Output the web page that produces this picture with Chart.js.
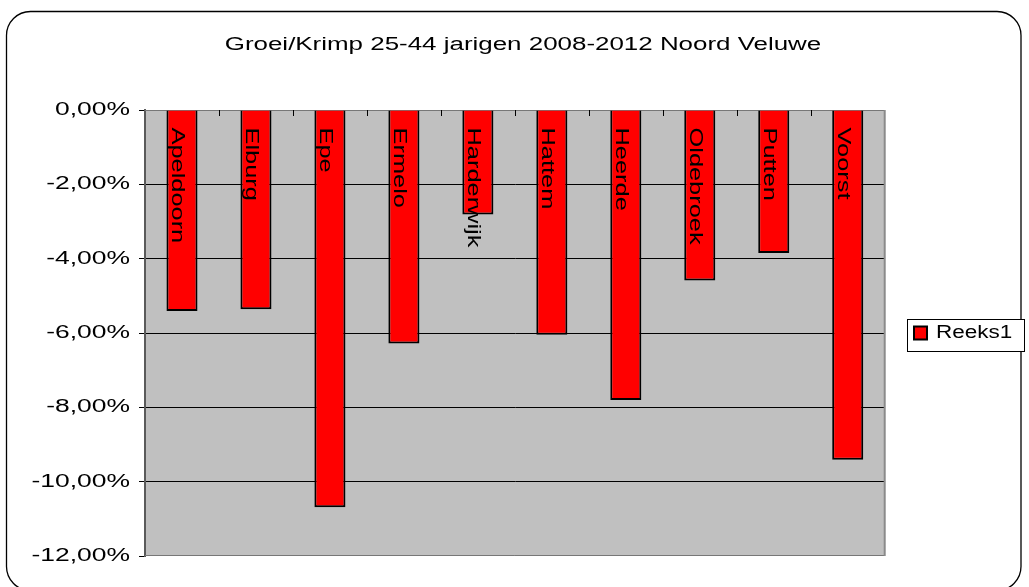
<!DOCTYPE html>
<html>
<head>
<meta charset="utf-8">
<script src="https://cdn.jsdelivr.net/npm/chart.js@4"></script>
<style>
  html, body { margin: 0; padding: 0; background: #ffffff; }
  canvas { display: block; }
</style>
</head>
<body>
<canvas id="c" width="1029" height="587"></canvas>
<script>
// ---- data ----
const chartTitle = 'Groei/Krimp 25-44 jarigen 2008-2012 Noord Veluwe';
const seriesName = 'Reeks1';
const categories = ['Apeldoorn', 'Elburg', 'Epe', 'Ermelo', 'Harderwijk', 'Hattem', 'Heerde', 'Oldebroek', 'Putten', 'Voorst'];
const values = [-5.41, -5.36, -10.69, -6.28, -2.81, -6.05, -7.80, -4.59, -3.85, -9.41];
const yMin = -12;
const yMax = 0;
const yStep = 2;

const FONT = '"Liberation Sans", Arial, sans-serif';

const canvas = document.getElementById('c');
const ctx = canvas.getContext('2d');

// the reference text is drawn with a horizontally widened face
function widen(t) {
  t = String(t);
  if (t === seriesName) return 1.25;
  if (/%$/.test(t)) return 1.47;
  if (t === chartTitle) return 1.44;
  return 1.41;
}
const origFill = ctx.fillText;
ctx.fillText = function (t, x, y) {
  const s = widen(t);
  this.save();
  this.translate(x, y);
  this.scale(s, 1);
  origFill.call(this, t, 0, 0);
  this.restore();
};
const origMeasure = ctx.measureText;
ctx.measureText = function (t) {
  const m = origMeasure.call(this, t);
  const s = widen(t);
  return {
    width: m.width * s,
    actualBoundingBoxAscent: m.actualBoundingBoxAscent,
    actualBoundingBoxDescent: m.actualBoundingBoxDescent,
    actualBoundingBoxLeft: m.actualBoundingBoxLeft * s,
    actualBoundingBoxRight: m.actualBoundingBoxRight * s,
    fontBoundingBoxAscent: m.fontBoundingBoxAscent,
    fontBoundingBoxDescent: m.fontBoundingBoxDescent
  };
};

const decor = {
  id: 'decor',
  beforeDraw(chart) {
    const c = chart.ctx;
    const a = chart.chartArea;
    c.save();
    c.fillStyle = '#ffffff';
    c.fillRect(0, 0, chart.width, chart.height);
    // outer rounded frame
    c.beginPath();
    c.roundRect(6.5, 11.5, 1014.5, 579, 24);
    c.strokeStyle = '#000000';
    c.lineWidth = 1.3;
    c.stroke();
    // plot background
    c.fillStyle = '#c0c0c0';
    c.fillRect(a.left, a.top, a.right - a.left, a.bottom - a.top);
    // legend frame
    const lg = chart.legend;
    if (lg && lg.legendHitBoxes && lg.legendHitBoxes.length) {
      const hb = lg.legendHitBoxes[0];
      const yc = hb.top + hb.height / 2 + 1.5;
      const x0 = Math.round(hb.left - 7) + 0.5;
      const x1 = Math.round(hb.left + hb.width + 12) + 0.5;
      const y0 = Math.round(yc - 16) + 0.5;
      const y1 = Math.round(yc + 16) + 0.5;
      c.fillStyle = '#ffffff';
      c.fillRect(x0, y0, x1 - x0, y1 - y0);
      c.strokeStyle = '#000000';
      c.lineWidth = 1;
      c.strokeRect(x0, y0, x1 - x0, y1 - y0);
    }
    c.restore();
  },
  beforeDatasetsDraw(chart) {
    const c = chart.ctx;
    const a = chart.chartArea;
    c.save();
    c.strokeStyle = '#777777';
    c.lineWidth = 1;
    c.beginPath();
    c.moveTo(a.left, Math.round(a.top) + 0.5);
    c.lineTo(a.right, Math.round(a.top) + 0.5);
    c.moveTo(a.left, Math.round(a.bottom) - 0.5);
    c.lineTo(a.right, Math.round(a.bottom) - 0.5);
    c.stroke();
    c.strokeStyle = '#8a8a8a';
    c.lineWidth = 2;
    c.beginPath();
    c.moveTo(a.right, a.top);
    c.lineTo(a.right, a.bottom);
    c.stroke();
    c.restore();
  },
  afterDatasetsDraw(chart) {
    const c = chart.ctx;
    const xs = chart.scales.x;
    const ys = chart.scales.y;
    const y0 = ys.getPixelForValue(0);
    c.save();
    // category boundary tick marks hanging from the 0 line
    c.strokeStyle = '#000000';
    c.lineWidth = 1;
    c.beginPath();
    for (let i = 0; i < categories.length - 1; i++) {
      const xb = Math.round(xs.getPixelForValue(i + 0.5)) + 0.5;
      c.moveTo(xb, y0);
      c.lineTo(xb, y0 + 6);
    }
    c.stroke();
    // rotated category labels (read top to bottom)
    c.fillStyle = '#000000';
    c.font = '18px ' + FONT;
    c.textAlign = 'left';
    c.textBaseline = 'alphabetic';
    categories.forEach((name, i) => {
      const xc = xs.getPixelForValue(i);
      c.save();
      c.translate(xc - 10, y0 + 17.5);
      c.rotate(Math.PI / 2);
      c.fillText(name, 0, 0);
      c.restore();
    });
    c.restore();
  }
};

new Chart(ctx, {
  type: 'bar',
  data: {
    labels: categories,
    datasets: [{
      label: seriesName,
      data: values,
      backgroundColor: '#ff0000',
      borderColor: '#000000',
      borderWidth: 2,
      borderSkipped: 'start',
      barPercentage: 0.42,
      categoryPercentage: 1.0
    }]
  },
  options: {
    responsive: false,
    animation: false,
    devicePixelRatio: 1,
    layout: { padding: { left: 23.7, right: 6.7, top: 0, bottom: 31 } },
    plugins: {
      title: {
        display: true,
        text: chartTitle,
        color: '#000000',
        font: { family: FONT, size: 18, weight: 'normal', lineHeight: 1.2 },
        padding: { top: 34, bottom: 54.4 }
      },
      legend: {
        display: true,
        position: 'right',
        fullSize: false,
        labels: {
          color: '#000000',
          font: { family: FONT, size: 18 },
          boxWidth: 13,
          boxHeight: 13,
          padding: 29.3
        }
      },
      tooltip: { enabled: false }
    },
    scales: {
      x: {
        type: 'category',
        display: false,
        offset: true
      },
      y: {
        min: yMin,
        max: yMax,
        afterFit(scale) { scale.width = 121.3; },
        ticks: {
          stepSize: yStep,
          color: '#000000',
          padding: 9,
          font: { family: FONT, size: 18 },
          callback: (v) => Number(v).toFixed(2).replace('.', ',') + '%'
        },
        grid: {
          color: (c) => (c.tick && (c.tick.value === yMin || c.tick.value === yMax)) ? 'rgba(0,0,0,0)' : '#000000',
          lineWidth: 1,
          drawTicks: true,
          tickLength: 6,
          tickColor: '#000000'
        },
        border: { display: true, color: '#5a5a5a', width: 2 }
      }
    }
  },
  plugins: [decor]
});
</script>
</body>
</html>
